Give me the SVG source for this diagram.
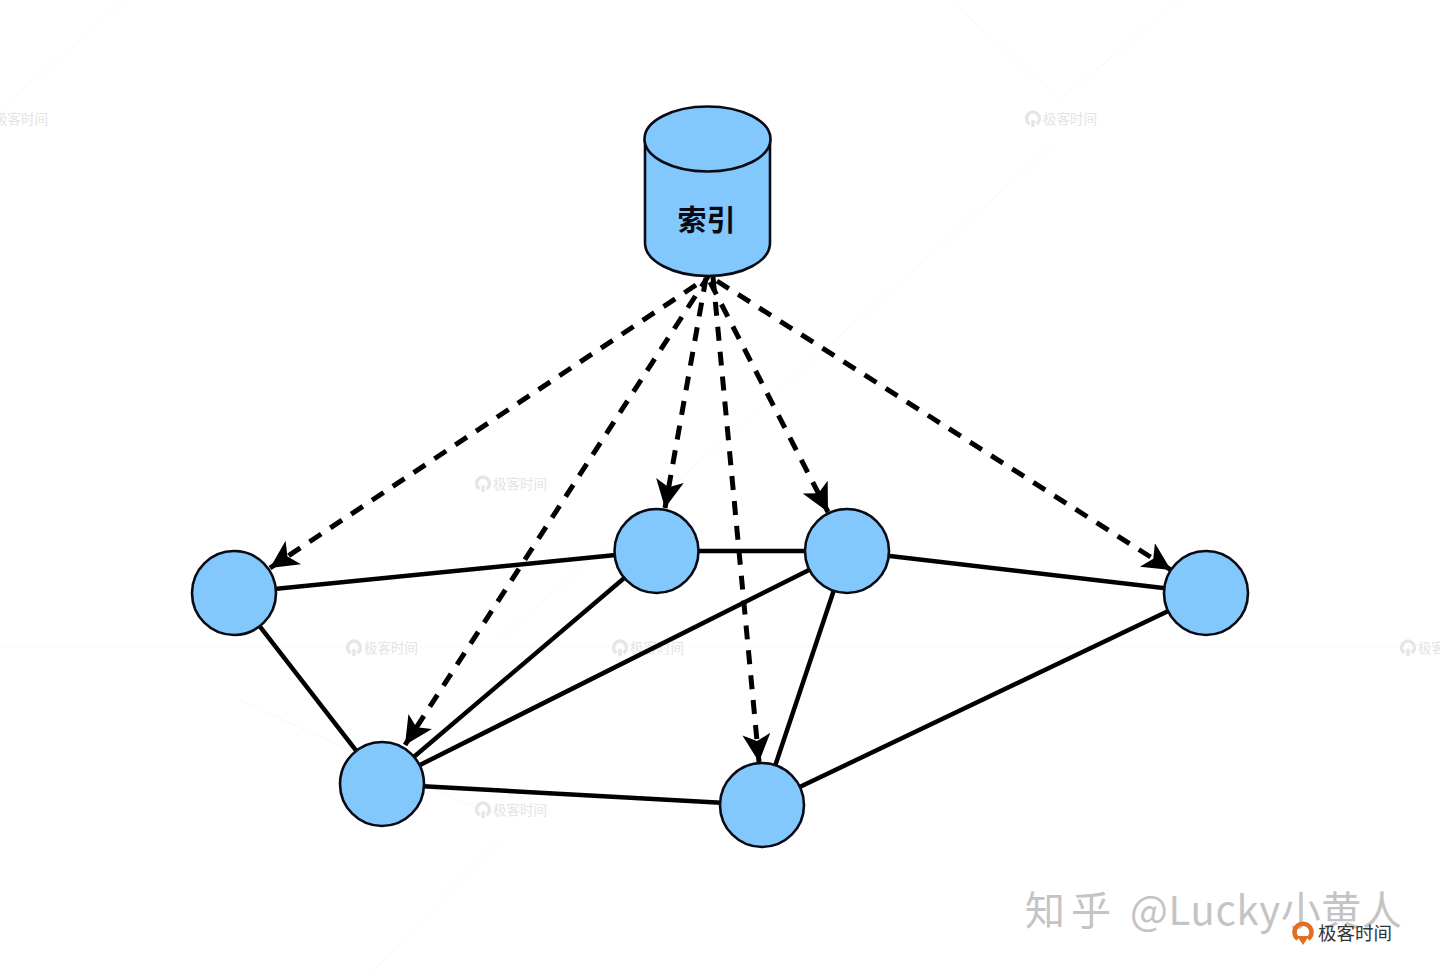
<svg xmlns="http://www.w3.org/2000/svg" width="1440" height="974" viewBox="0 0 1440 974">
<style>
.n{fill:#82c8fc;stroke:#0a0a14;stroke-width:2.600}
.e{stroke:#000;stroke-width:4.500;fill:none}
.d{stroke:#000;stroke-width:5;fill:none;stroke-dasharray:14 11;marker-end:url(#a)}
.wm{font-family:"Noto Sans CJK SC",sans-serif;font-size:13.500px;fill:#e4e4e4}
.wi{fill:none;stroke:#e6e6e6;stroke-width:3.500}
.g{stroke:#f2f2f2;stroke-width:1;stroke-dasharray:2 2;fill:none}
</style>
<defs>
<marker id="a" markerUnits="userSpaceOnUse" markerWidth="32" markerHeight="32" refX="28" refY="14" orient="auto">
<path d="M0 0L28 14L0 28L7 14Z" fill="#000"/>
</marker>
<g id="w"><path d="M4.500 5A6.500 6.500 0 1 1 11.500 5" class="wi"/><path d="M8 1V8" class="wi"/><text x="18" y="4.500" class="wm">极客时间</text></g>
</defs>
<rect width="1440" height="974" fill="#fff"/>
<g id="watermarks">
<path class="g" d="M0 646H1440M125 0L0 110M950 0L1050 90M1180 0L1060 100M1050 148L500 640M500 840L370 974M240 700L480 810"/>
<use href="#w" x="-24" y="119"/>
<use href="#w" x="1025" y="119"/>
<use href="#w" x="475" y="484"/>
<use href="#w" x="346" y="648"/>
<use href="#w" x="612" y="648"/>
<use href="#w" x="1400" y="648"/>
<use href="#w" x="475" y="810"/>
</g>
<g id="connectors">
<path class="e" d="M234 593L656 551M656 551H847M847 551L1206 593M234 593L382 784M656 551L382 784M847 551L382 784M382 784L762 805M847 551L762 805M1206 593L762 805"/>
<path class="d" d="M696 285L270 568"/>
<path class="d" d="M709 275L405 745"/>
<path class="d" d="M706 278L665 508"/>
<path class="d" d="M713 277L759 762"/>
<path class="d" d="M710 282L828 512"/>
<path class="d" d="M717 281L1171 570"/>
</g>
<g id="index">
<path class="n" d="M645 139V243C645 261 673 276 708 276C743 276 770 261 770 243V139"/>
<ellipse class="n" cx="707.500" cy="139" rx="63" ry="32.500"/>
<text x="706.500" y="231" text-anchor="middle" font-family="'Noto Sans CJK SC',sans-serif" font-size="29" font-weight="700" fill="#0a0a14">索引</text>
</g>
<g id="node1"><circle class="n" cx="234" cy="593" r="42"/></g>
<g id="node2"><circle class="n" cx="656.500" cy="551" r="42"/></g>
<g id="node3"><circle class="n" cx="847" cy="551" r="42"/></g>
<g id="node4"><circle class="n" cx="1206" cy="593" r="42"/></g>
<g id="node5"><circle class="n" cx="382" cy="784" r="42"/></g>
<g id="node6"><circle class="n" cx="762" cy="805" r="42"/></g>
<g id="credit">
<text y="925" font-family="'Noto Sans CJK SC',sans-serif" font-size="40" fill="#c4c4c4"><tspan x="1025" letter-spacing="6">知乎</tspan><tspan x="1130" textLength="272" lengthAdjust="spacing">@Lucky小黄人</tspan></text>
<path d="M1298 939A8.500 8.500 0 1 1 1308 939" fill="none" stroke="#e0701f" stroke-width="4.500"/>
<path d="M1297 936H1309L1303 945Z" fill="#e0701f"/>
<text x="1318" y="940" font-family="'Noto Sans CJK SC',sans-serif" font-size="18.500" fill="#333">极客时间</text>
</g>
</svg>
